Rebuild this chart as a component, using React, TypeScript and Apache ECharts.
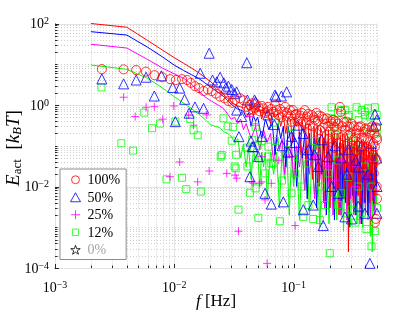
import React, { useEffect, useRef } from 'react';
import * as echarts from 'echarts';

const SERIF = "'Liberation Serif', 'Times New Roman', serif";
const X_MIN = 0.001;
const X_MAX = 0.5;
const Y_MIN = 1e-4;
const Y_MAX = 100;

const xMajorTicks = [0.001, 0.01, 0.1];
const xMinorTicks = [0.002, 0.003, 0.004, 0.005, 0.006, 0.007, 0.008, 0.009, 0.02, 0.03, 0.04, 0.05, 0.06, 0.07, 0.08, 0.09, 0.2, 0.3, 0.4, 0.5];
const yMajorTicks = [1e-4, 1e-2, 1, 100];
const yMinorTicks = [
  2e-4, 3e-4, 4e-4, 5e-4, 6e-4, 7e-4, 8e-4, 9e-4, 1e-3, 2e-3, 3e-3, 4e-3, 5e-3, 6e-3, 7e-3, 8e-3, 9e-3,
  0.02, 0.03, 0.04, 0.05, 0.06, 0.07, 0.08, 0.09, 0.1, 0.2, 0.3, 0.4, 0.5, 0.6, 0.7, 0.8, 0.9,
  2, 3, 4, 5, 6, 7, 8, 9, 10, 20, 30, 40, 50, 60, 70, 80, 90,
];

const legendNames = ['100%', '50%', '25%', '12%', '0%'];

// 100% : red circles
const circles100 = [
  [0.00247, 7.6], [0.00376, 7.5], [0.00479, 7.2], [0.00578, 6.6], [0.00683, 5.4], [0.00795, 4.8], [0.00922, 4.3], [0.0103, 4.1], [0.0116, 4.3], [0.0128, 4.1],
  [0.01375, 3.5], [0.0149, 2.9], [0.0161, 2.6], [0.0176, 2.2], [0.0191, 2.4], [0.0206, 2.2], [0.0223, 1.9], [0.0242, 1.6], [0.0263, 1.46], [0.0284, 1.25],
  [0.0307, 1.14], [0.0323, 1.33], [0.0356, 1.46], [0.038, 1.3], [0.0405, 0.9], [0.043, 1.0], [0.046, 0.75], [0.048, 1.07], [0.0506, 0.9], [0.0557, 0.83],
  [0.058, 0.64], [0.0613, 0.9], [0.0676, 0.68], [0.07, 0.98], [0.0745, 0.57], [0.082, 0.68], [0.085, 0.9], [0.0903, 0.52], [0.0962, 0.39], [0.099, 0.75],
  [0.1026, 0.57], [0.1116, 0.47], [0.117, 0.64], [0.1206, 0.39], [0.124, 0.75], [0.1285, 0.52], [0.137, 0.32], [0.142, 0.57], [0.1508, 0.43], [0.155, 0.64],
  [0.166, 0.24], [0.172, 0.52], [0.183, 0.35], [0.19, 0.47], [0.2014, 0.22], [0.208, 0.35], [0.2148, 0.43], [0.22, 0.29], [0.229, 0.18], [0.236, 0.35],
  [0.244, 0.9], [0.249, 0.68], [0.269, 0.24], [0.277, 0.39], [0.288, 0.18], [0.296, 0.29], [0.305, 0.35], [0.316, 0.14], [0.33, 0.16], [0.34, 0.24],
  [0.35, 0.29], [0.359, 0.115], [0.372, 0.155], [0.385, 0.22], [0.396, 0.26], [0.408, 0.095], [0.42, 0.14], [0.436, 0.2], [0.45, 0.24], [0.465, 0.115],
  [0.48, 0.095], [0.497, 0.16], [0.5, 0.14], [0.48, 0.0013], [0.49, 0.0016], [0.5, 0.005], [0.497, 0.01], [0.47, 0.021], [0.45, 0.05], [0.222, 0.054],
  [0.305, 0.044], [0.372, 0.054], [0.42, 0.037], [0.497, 0.044], [0.337, 0.079],
  [0.042, 0.75], [0.045, 1.1], [0.047, 0.85], [0.052, 0.7], [0.054, 0.95], [0.06, 0.7], [0.063, 0.6], [0.065, 0.8], [0.072, 0.75], [0.077, 0.8],
  [0.079, 0.5], [0.088, 0.65], [0.093, 0.75], [0.095, 0.55], [0.105, 0.6], [0.108, 0.4], [0.114, 0.55], [0.126, 0.35], [0.132, 0.6], [0.135, 0.42],
  [0.145, 0.3], [0.148, 0.5], [0.16, 0.4], [0.163, 0.55], [0.175, 0.28], [0.18, 0.45], [0.195, 0.3], [0.198, 0.15], [0.205, 0.4], [0.212, 0.12],
  [0.225, 0.4], [0.232, 0.25], [0.24, 0.12], [0.255, 0.3], [0.26, 0.17], [0.265, 0.38], [0.273, 0.1], [0.282, 0.3], [0.29, 0.08], [0.3, 0.2],
  [0.31, 0.1], [0.32, 0.3], [0.325, 0.07], [0.335, 0.2], [0.345, 0.1], [0.355, 0.2], [0.365, 0.3], [0.378, 0.08], [0.39, 0.15], [0.4, 0.06],
  [0.415, 0.25], [0.425, 0.07], [0.44, 0.13], [0.455, 0.3], [0.46, 0.06], [0.475, 0.2], [0.485, 0.05], [0.49, 0.28],
];

// 50% : blue triangles
const triangles50 = [
  [0.00247, 4.35], [0.00376, 3.3], [0.00479, 4.1], [0.0058, 4.8], [0.0068, 1.66], [0.0078, 5.2], [0.0097, 2.7], [0.0102, 0.39], [0.0111, 2.6], [0.0122, 1.38],
  [0.0133, 0.63], [0.0149, 0.9], [0.0165, 6.0], [0.0176, 0.83], [0.0196, 18.6], [0.0209, 4.1], [0.0227, 3.7], [0.0242, 4.8], [0.026, 3.5], [0.027, 2.6],
  [0.0284, 2.9], [0.0303, 2.4], [0.032, 1.9], [0.0333, 0.75], [0.0348, 0.167], [0.0367, 0.52], [0.0405, 10.9], [0.043, 0.0174], [0.046, 0.095], [0.048, 1.2],
  [0.0506, 0.054], [0.0576, 0.0068], [0.061, 0.57], [0.065, 0.0037], [0.069, 0.33], [0.0711, 1.6], [0.079, 1.66], [0.082, 0.0042], [0.0874, 2.1], [0.096, 0.17],
  [0.108, 0.32], [0.1206, 0.0027], [0.133, 0.08], [0.146, 0.0035], [0.161, 0.031], [0.177, 0.0011], [0.208, 0.01], [0.236, 0.0068], [0.269, 0.0018], [0.305, 0.0016],
  [0.348, 0.0033], [0.396, 0.0022], [0.436, 0.00013], [0.497, 0.43], [0.5, 0.0022], [0.5, 0.01], [0.497, 0.05], [0.044, 0.13], [0.054, 0.17], [0.08, 0.1],
  [0.09, 0.07], [0.102, 0.12], [0.172, 0.14], [0.222, 0.1], [0.288, 0.08], [0.372, 0.1], [0.45, 0.115], [0.195, 0.054], [0.33, 0.044],
  [0.0698, 1.76], [0.047, 1.33], [0.0333, 2.1], [0.041, 1.33], [0.045, 0.095], [0.12, 0.2], [0.15, 0.06], [0.25, 0.05], [0.28, 0.02], [0.35, 0.03],
  [0.42, 0.02], [0.47, 0.3], [0.48, 0.6],
];

// 25% : magenta pluses
const pluses25 = [
  [0.00376, 1.55], [0.0047, 0.52], [0.0058, 0.88], [0.0068, 0.91], [0.008, 0.45], [0.0099, 0.95], [0.0111, 0.04], [0.0092, 0.0174], [0.0132, 0.57], [0.0145, 0.32],
  [0.0157, 0.013], [0.0187, 0.57], [0.0196, 0.024], [0.0275, 0.021], [0.0323, 0.019], [0.0333, 0.016], [0.0345, 0.0008], [0.0446, 0.013], [0.052, 0.012], [0.0576, 0.0047],
  [0.06, 0.00013], [0.065, 0.012], [0.054, 0.054], [0.075, 0.044], [0.096, 0.054], [0.103, 0.0011], [0.117, 0.08], [0.15, 0.054], [0.195, 0.031], [0.26, 0.044],
  [0.33, 0.031], [0.42, 0.044], [0.222, 0.014], [0.33, 0.01], [0.043, 0.52], [0.048, 0.32], [0.046, 0.012], [0.054, 0.013],
];

// 12% : green squares
const squares12 = [
  [0.00245, 2.7], [0.0056, 0.65], [0.0065, 0.27], [0.0076, 0.35], [0.0036, 0.115], [0.0045, 0.076], [0.0086, 0.015], [0.0102, 0.39], [0.0116, 0.0164], [0.0126, 0.0086],
  [0.0136, 0.45], [0.0145, 0.24], [0.0157, 0.18], [0.0167, 0.0075], [0.0245, 0.054], [0.0258, 0.47], [0.028, 0.3], [0.0303, 0.133], [0.0327, 0.028], [0.0345, 0.0027],
  [0.033, 0.06], [0.0405, 0.09], [0.041, 0.031], [0.043, 0.007], [0.048, 0.009], [0.0506, 0.0017], [0.0576, 0.021], [0.065, 0.037], [0.0768, 0.0014], [0.08, 0.014],
  [0.096, 0.0068], [0.103, 0.021], [0.117, 0.01], [0.1206, 0.0018], [0.133, 0.0035], [0.146, 0.0016], [0.166, 0.0015], [0.183, 0.0035], [0.201, 0.00023], [0.208, 0.88],
  [0.236, 0.64], [0.269, 0.75], [0.337, 0.88], [0.372, 0.75], [0.42, 0.83], [0.48, 0.88], [0.497, 0.57], [0.396, 0.57], [0.288, 0.52], [0.236, 0.0035],
  [0.269, 0.0022], [0.305, 0.0027], [0.33, 0.0013], [0.372, 0.0022], [0.408, 0.0009], [0.45, 0.00034], [0.48, 0.0008], [0.5, 0.003], [0.222, 0.0068], [0.05, 0.1],
  [0.061, 0.054], [0.07, 0.13], [0.085, 0.08], [0.108, 0.054], [0.133, 0.037], [0.161, 0.08], [0.195, 0.021], [0.236, 0.044], [0.288, 0.0174], [0.33, 0.08],
  [0.396, 0.031], [0.465, 0.05], [0.22, 0.2], [0.305, 0.16], [0.42, 0.29], [0.497, 0.2], [0.096, 0.29], [0.07, 0.37], [0.15, 0.13], [0.17, 0.01],
  [0.25, 0.0068], [0.35, 0.01], [0.45, 0.01], [0.048, 0.29], [0.054, 0.13],
  [0.25, 0.75], [0.395, 0.68], [0.435, 0.52], [0.35, 0.43], [0.29, 0.57], [0.5, 0.29], [0.208, 0.47], [0.22, 0.29], [0.031, 0.29], [0.025, 0.059],
  [0.032, 0.031], [0.045, 0.14], [0.0614, 0.095], [0.068, 0.037],
];

// model curves
const line100 = [
  [0.002, 100], [0.004, 81], [0.006, 38], [0.008, 22], [0.01, 14.5], [0.012, 10.5], [0.014, 8], [0.016, 6.2], [0.018, 4.8], [0.02, 3.8],
  [0.022, 3.0], [0.024, 2.3], [0.026, 1.8], [0.028, 1.45], [0.03, 1.2], [0.032, 1.05], [0.034, 0.95], [0.036, 0.9], [0.038, 0.85], [0.04, 0.95],
  [0.042, 0.7], [0.044, 0.9], [0.046, 0.55], [0.048, 0.85], [0.05, 0.7], [0.052, 0.8], [0.054, 0.45], [0.056, 0.75], [0.058, 0.6], [0.06, 0.7],
  [0.064, 0.35], [0.066, 0.65], [0.07, 0.5], [0.074, 0.6], [0.078, 0.3], [0.082, 0.55], [0.086, 0.2], [0.09, 0.5], [0.094, 0.45], [0.098, 0.12],
  [0.102, 0.45], [0.106, 0.3], [0.11, 0.4], [0.114, 0.06], [0.118, 0.4], [0.122, 0.2], [0.126, 0.35], [0.13, 0.03], [0.134, 0.35], [0.14, 0.3],
  [0.144, 0.015], [0.148, 0.3], [0.154, 0.08], [0.158, 0.3], [0.164, 0.01], [0.168, 0.28], [0.174, 0.2], [0.178, 0.004], [0.184, 0.25], [0.19, 0.05],
  [0.196, 0.25], [0.202, 0.003], [0.208, 0.22], [0.214, 0.1], [0.22, 0.2], [0.226, 0.008], [0.232, 0.2], [0.24, 0.002], [0.246, 0.18], [0.252, 0.02],
  [0.258, 0.2], [0.264, 0.005], [0.27, 0.18], [0.278, 0.03], [0.284, 0.17], [0.288, 0.00025], [0.294, 0.15], [0.3, 0.01], [0.308, 0.16], [0.316, 0.004],
  [0.324, 0.14], [0.332, 0.02], [0.34, 0.15], [0.348, 0.006], [0.356, 0.13], [0.364, 0.003], [0.372, 0.14], [0.38, 0.02], [0.39, 0.12], [0.398, 0.005],
  [0.406, 0.12], [0.416, 0.01], [0.426, 0.11], [0.436, 0.004], [0.446, 0.1], [0.456, 0.02], [0.466, 0.1], [0.476, 0.006], [0.486, 0.09], [0.496, 0.03], [0.5, 0.08],
];

const line50 = [
  [0.002, 63], [0.004, 52], [0.006, 26], [0.008, 15], [0.01, 9.5], [0.012, 7], [0.014, 5.5], [0.016, 4.5], [0.018, 3.5], [0.02, 2.8],
  [0.022, 2.3], [0.024, 1.9], [0.026, 1.6], [0.028, 1.3], [0.03, 1.05], [0.032, 0.9], [0.034, 0.8], [0.036, 0.75], [0.038, 0.7], [0.04, 0.5],
  [0.042, 0.65], [0.044, 0.3], [0.046, 0.55], [0.048, 0.4], [0.05, 0.5], [0.054, 0.15], [0.058, 0.45], [0.062, 0.25], [0.066, 0.4], [0.07, 0.06],
  [0.074, 0.35], [0.078, 0.15], [0.082, 0.3], [0.086, 0.03], [0.09, 0.3], [0.096, 0.1], [0.1, 0.25], [0.106, 0.01], [0.112, 0.22], [0.118, 0.05],
  [0.124, 0.2], [0.13, 0.005], [0.136, 0.2], [0.142, 0.03], [0.15, 0.18], [0.156, 0.003], [0.164, 0.16], [0.172, 0.02], [0.18, 0.15], [0.188, 0.002],
  [0.196, 0.14], [0.204, 0.01], [0.212, 0.13], [0.22, 0.0015], [0.228, 0.12], [0.236, 0.008], [0.244, 0.12], [0.252, 0.002], [0.262, 0.11], [0.272, 0.004],
  [0.282, 0.1], [0.292, 0.001], [0.302, 0.1], [0.312, 0.006], [0.322, 0.09], [0.332, 0.002], [0.342, 0.09], [0.352, 0.01], [0.362, 0.08], [0.372, 0.0012],
  [0.384, 0.08], [0.396, 0.004], [0.408, 0.07], [0.42, 0.002], [0.432, 0.07], [0.444, 0.008], [0.456, 0.06], [0.468, 0.0025], [0.48, 0.06], [0.492, 0.01], [0.5, 0.05],
];

const line25 = [
  [0.002, 31], [0.004, 25], [0.006, 13], [0.008, 8], [0.01, 5.8], [0.012, 4.5], [0.014, 3.2], [0.016, 2.2], [0.018, 1.6], [0.02, 1.3],
  [0.022, 1.1], [0.024, 0.95], [0.026, 0.8], [0.028, 0.6], [0.03, 0.45], [0.032, 0.5], [0.034, 0.35], [0.036, 0.45], [0.038, 0.25], [0.04, 0.35],
  [0.044, 0.15], [0.048, 0.3], [0.052, 0.08], [0.056, 0.25], [0.06, 0.12], [0.064, 0.2], [0.068, 0.04], [0.072, 0.18], [0.076, 0.08], [0.08, 0.15],
  [0.084, 0.02], [0.088, 0.12], [0.092, 0.05], [0.096, 0.1], [0.1, 0.015], [0.106, 0.1], [0.112, 0.03], [0.118, 0.09], [0.124, 0.008], [0.13, 0.08],
  [0.136, 0.02], [0.142, 0.08], [0.15, 0.005], [0.158, 0.07], [0.166, 0.015], [0.174, 0.07], [0.182, 0.003], [0.19, 0.06], [0.198, 0.01], [0.206, 0.06],
  [0.214, 0.002], [0.222, 0.05], [0.23, 0.008], [0.238, 0.05], [0.246, 0.002], [0.254, 0.05], [0.262, 0.006], [0.27, 0.045], [0.28, 0.0015], [0.29, 0.04],
  [0.3, 0.005], [0.31, 0.04], [0.32, 0.002], [0.33, 0.035], [0.34, 0.006], [0.35, 0.035], [0.36, 0.0012], [0.37, 0.03], [0.38, 0.004], [0.39, 0.03],
  [0.4, 0.002], [0.41, 0.03], [0.42, 0.008], [0.43, 0.025], [0.44, 0.0015], [0.45, 0.025], [0.46, 0.005], [0.47, 0.022], [0.48, 0.002], [0.49, 0.02], [0.5, 0.006],
];

const line12 = [
  [0.002, 9.6], [0.004, 7.5], [0.006, 4.5], [0.008, 2.6], [0.01, 1.6], [0.012, 1.1], [0.014, 0.8], [0.016, 0.6], [0.018, 0.45], [0.02, 0.33],
  [0.022, 0.3], [0.024, 0.28], [0.026, 0.22], [0.028, 0.2], [0.03, 0.17], [0.032, 0.12], [0.034, 0.15], [0.036, 0.05], [0.038, 0.11], [0.04, 0.03],
  [0.042, 0.09], [0.044, 0.015], [0.046, 0.08], [0.048, 0.04], [0.05, 0.07], [0.052, 0.01], [0.054, 0.07], [0.056, 0.03], [0.058, 0.07], [0.06, 0.005],
  [0.064, 0.07], [0.068, 0.02], [0.072, 0.07], [0.076, 0.003], [0.08, 0.07], [0.084, 0.015], [0.088, 0.06], [0.092, 0.002], [0.096, 0.06], [0.1, 0.01],
  [0.106, 0.06], [0.112, 0.0015], [0.118, 0.06], [0.124, 0.008], [0.13, 0.05], [0.136, 0.002], [0.142, 0.05], [0.15, 0.006], [0.158, 0.05], [0.166, 0.001],
  [0.174, 0.05], [0.182, 0.004], [0.19, 0.045], [0.198, 0.0012], [0.206, 0.045], [0.214, 0.005], [0.222, 0.04], [0.23, 0.0015], [0.238, 0.04], [0.246, 0.003],
  [0.254, 0.04], [0.262, 0.0008], [0.27, 0.035], [0.28, 0.004], [0.29, 0.035], [0.3, 0.001], [0.31, 0.03], [0.32, 0.003], [0.33, 0.03], [0.34, 0.0012],
  [0.35, 0.03], [0.36, 0.004], [0.37, 0.025], [0.38, 0.001], [0.39, 0.025], [0.4, 0.003], [0.41, 0.025], [0.42, 0.0015], [0.43, 0.02], [0.44, 0.0006],
  [0.45, 0.02], [0.456, 0.00025], [0.464, 0.02], [0.474, 0.002], [0.484, 0.018], [0.494, 0.004], [0.5, 0.015],
];

const zero0: number[][] = [];

const RED = '#ff0000';
const BLUE = '#0000ff';
const MAGENTA = '#ff00ff';
const GREEN = '#00ff00';
const BLACK = '#000000';
const AXIS = '#262626';

const PLUS = 'path://M5,0 L5,10 M0,5 L10,5';
const STAR = 'path://M5,0 L6.2,3.6 L10,3.6 L6.9,5.9 L8.1,9.5 L5,7.3 L1.9,9.5 L3.1,5.9 L0,3.6 L3.8,3.6 Z';
const TRI_ICON = 'path://M5,0 L10,9 L0,9 Z';
const SQ_ICON = 'path://M0,0 M10,10 M1.5,1.5 L8.5,1.5 L8.5,8.5 L1.5,8.5 Z';
const CIRCLE_ICON = 'path://M0,0 M10,10 M9.4,5 A4.4,4.4 0 1 1 0.6,5 A4.4,4.4 0 1 1 9.4,5 Z';

const legendIcons = [CIRCLE_ICON, TRI_ICON, PLUS, SQ_ICON, STAR];
const legendColors = [RED, BLUE, MAGENTA, GREEN, BLACK];

function isDecade(v: number): boolean {
  const l = Math.log10(v);
  return Math.abs(l - Math.round(l)) < 0.01;
}

function supLabel(v: number): string {
  const e = Math.round(Math.log10(v));
  const s = e < 0 ? '\u2212' + -e : String(e);
  return `{b|10}{s|${s}}`;
}

const labelRich = {
  b: { fontFamily: SERIF, fontSize: 14, lineHeight: 16, color: '#000' },
  s: { fontFamily: SERIF, fontSize: 10, lineHeight: 9, verticalAlign: 'top', color: '#000' },
};

function hollowScatter(name: string, data: number[][], symbol: string, size: number, color: string) {
  return {
    name,
    type: 'scatter',
    data,
    symbol,
    symbolSize: size,
    itemStyle: { color: 'rgba(0,0,0,0)', borderColor: color, borderWidth: 1 },
    emphasis: { disabled: true },
    z: 3,
  };
}

function curve(name: string, data: number[][], color: string) {
  return {
    name,
    type: 'line',
    data,
    symbol: 'none',
    lineStyle: { color, width: 1 },
    itemStyle: { color },
    emphasis: { disabled: true },
    z: 3,
  };
}

export default function App() {
  const ref = useRef<HTMLDivElement>(null);
  useEffect(() => {
    const chart = echarts.init(ref.current!, null, { renderer: 'svg' });
    const gridX = [...xMajorTicks.map((v) => [v, 1, 1]), ...xMinorTicks.map((v) => [v, 1, 0])];
    const gridY = [...yMajorTicks.map((v) => [0.01, v, 1]), ...yMinorTicks.map((v) => [0.01, v, 0])];

    const option: any = {
      animation: false,
      grid: { left: 55, right: 38, top: 23.5, bottom: 44, containLabel: false, outerBoundsMode: 'none' },
      xAxis: {
        type: 'log',
        logBase: 10,
        min: X_MIN,
        max: X_MAX,
        axisLine: { show: true, lineStyle: { color: AXIS, width: 1 } },
        axisTick: { show: false },
        splitLine: { show: false },
        axisLabel: {
          margin: 11,
          formatter: (v: number) => (isDecade(v) ? supLabel(v) : ''),
          rich: labelRich,
        },
        name: '{i|f} [Hz]',
        nameLocation: 'middle',
        nameGap: 24,
        nameMoveOverlap: false,
        nameTextStyle: {
          fontFamily: SERIF,
          fontSize: 17,
          color: '#000',
          rich: { i: { fontFamily: SERIF, fontSize: 17, fontStyle: 'italic', color: '#000' } },
        },
      },
      yAxis: {
        type: 'log',
        logBase: 10,
        min: Y_MIN,
        max: Y_MAX,
        axisLine: { show: true, lineStyle: { color: AXIS, width: 1 } },
        axisTick: { show: false },
        splitLine: { show: false },
        axisLabel: {
          margin: 6,
          formatter: (v: number) => {
            if (!isDecade(v)) return '';
            const e = Math.round(Math.log10(v));
            return e % 2 === 0 ? supLabel(v) : '';
          },
          rich: labelRich,
        },
      },
      legend: {
        orient: 'vertical',
        left: 60,
        top: 169,
        padding: [2, 6, 1, 10],
        itemGap: 0,
        itemWidth: 14,
        itemHeight: 9,
        symbolKeepAspect: true,
        backgroundColor: '#ffffff',
        borderColor: '#8c8c8c',
        borderWidth: 1,
        borderRadius: 0,
        selectedMode: false,
        textStyle: { fontFamily: SERIF, fontSize: 14, color: '#000', lineHeight: 17.5 },
        data: legendNames.map((n, i) => ({
          name: n,
          icon: legendIcons[i],
          itemStyle: { color: 'rgba(0,0,0,0)', borderColor: legendColors[i], borderWidth: 1 },
          textStyle: n === '0%' ? { color: '#a6a6a6' } : undefined,
        })),
      },
      graphic: [
        {
          type: 'text',
          x: 12,
          y: 148,
          rotation: Math.PI / 2,
          style: {
            text: '{i|E}{sub|act}  [{i|k}{subi|B}{i|T}]',
            align: 'center',
            verticalAlign: 'middle',
            fontFamily: SERIF,
            fontSize: 19,
            fill: '#000',
            rich: {
              i: { fontFamily: SERIF, fontSize: 19, fontStyle: 'italic', lineHeight: 22, fill: '#000' },
              sub: { fontFamily: SERIF, fontSize: 13, lineHeight: 13, verticalAlign: 'bottom', fill: '#000' },
              subi: { fontFamily: SERIF, fontSize: 13, lineHeight: 13, fontStyle: 'italic', verticalAlign: 'bottom', fill: '#000' },
            },
          },
        },
      ],
      series: [
        {
          type: 'custom',
          name: 'gridX',
          silent: true,
          z: 1,
          data: gridX,
          encode: { x: 0, y: 1 },
          renderItem: (_p: any, api: any) => {
            const v = api.value(0);
            const major = api.value(2) === 1;
            const b = api.coord([v, Y_MIN]);
            const t = api.coord([v, Y_MAX]);
            const x = Math.round(b[0]) + 0.5;
            return {
              type: 'group',
              children: [
                {
                  type: 'line',
                  shape: { x1: x, y1: t[1], x2: x, y2: b[1] },
                  style: major ? { stroke: '#e2e2e2', lineWidth: 1 } : { stroke: '#cfcfcf', lineWidth: 1, lineDash: [1, 2] },
                },
                {
                  type: 'line',
                  shape: { x1: x, y1: b[1], x2: x, y2: b[1] - (major ? 4 : 2.5) },
                  style: { stroke: AXIS, lineWidth: 1 },
                },
              ],
            };
          },
        },
        {
          type: 'custom',
          name: 'gridY',
          silent: true,
          z: 1,
          data: gridY,
          encode: { x: 0, y: 1 },
          renderItem: (_p: any, api: any) => {
            const v = api.value(1);
            const major = api.value(2) === 1;
            const l = api.coord([X_MIN, v]);
            const r = api.coord([X_MAX, v]);
            const y = Math.round(l[1]) + 0.5;
            return {
              type: 'group',
              children: [
                {
                  type: 'line',
                  shape: { x1: l[0], y1: y, x2: r[0], y2: y },
                  style: major ? { stroke: '#e2e2e2', lineWidth: 1 } : { stroke: '#cfcfcf', lineWidth: 1, lineDash: [1, 2] },
                },
                {
                  type: 'line',
                  shape: { x1: l[0], y1: y, x2: l[0] + (major ? 4 : 2.5), y2: y },
                  style: { stroke: AXIS, lineWidth: 1 },
                },
              ],
            };
          },
        },
        curve('fit 12%', line12, GREEN),
        hollowScatter('12%', squares12, 'rect', 7, GREEN),
        curve('fit 25%', line25, MAGENTA),
        hollowScatter('25%', pluses25, PLUS, 8, MAGENTA),
        curve('fit 50%', line50, BLUE),
        hollowScatter('50%', triangles50, 'triangle', 10, BLUE),
        curve('fit 100%', line100, RED),
        hollowScatter('100%', circles100, 'circle', 9, RED),
        hollowScatter('0%', zero0, STAR, 9, BLACK),
      ],
    };
    chart.setOption(option);
    return () => chart.dispose();
  }, []);
  return <div ref={ref} style={{ position: 'fixed', left: 0, top: 0, width: 415, height: 312 }} />;
}
